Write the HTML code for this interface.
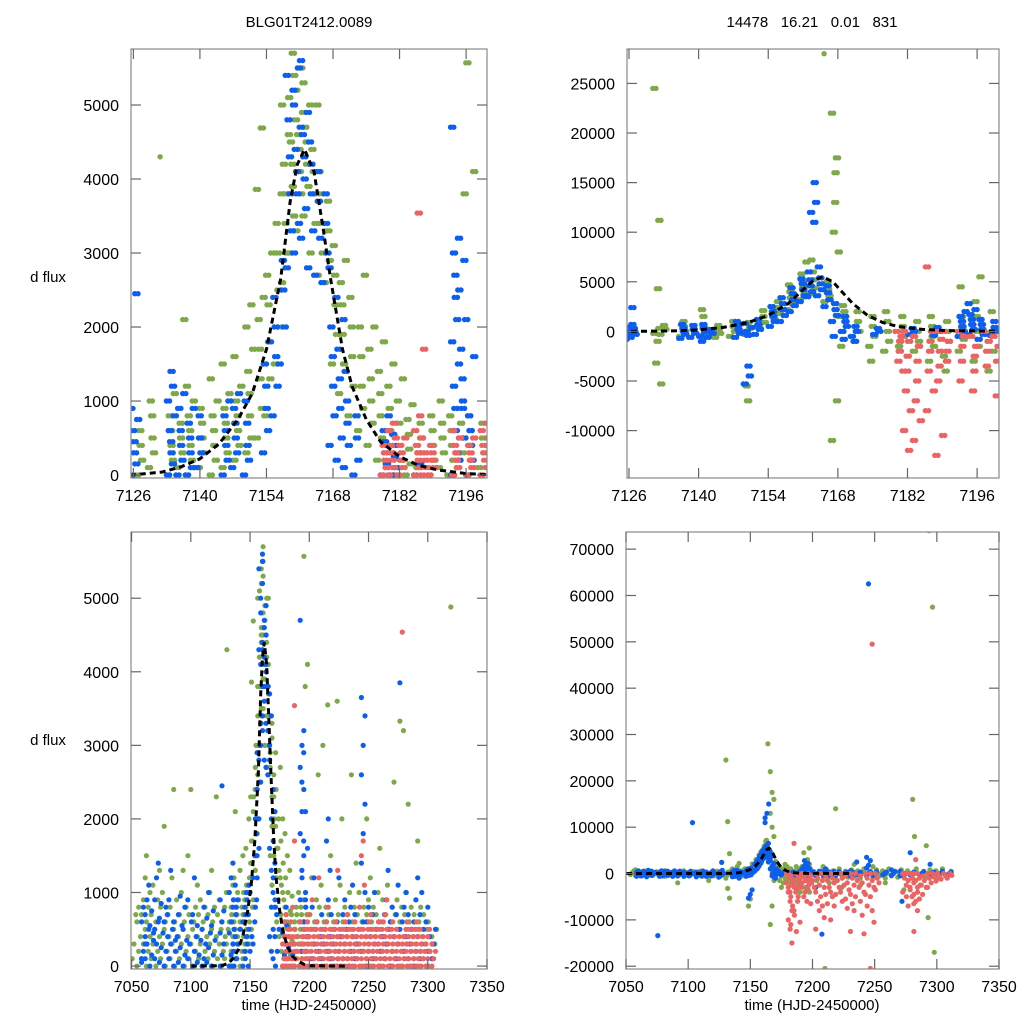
<!DOCTYPE html>
<html><head><meta charset="utf-8">
<style>
html,body{margin:0;padding:0;background:#fff;}
svg{display:block;font-family:"Liberation Sans",sans-serif;}
</style></head>
<body>
<svg id="chart" width="1024" height="1024" viewBox="0 0 1024 1024" xmlns="http://www.w3.org/2000/svg">
<text x="309" y="27" font-size="15" text-anchor="middle">BLG01T2412.0089</text>
<text x="812" y="27" font-size="15" text-anchor="middle" xml:space="preserve">14478   16.21   0.01   831</text>
<text x="48" y="282" font-size="15" text-anchor="middle">d flux</text>
<text x="48" y="745" font-size="15" text-anchor="middle">d flux</text>
<text x="309" y="1010" font-size="15" text-anchor="middle">time (HJD-2450000)</text>
<text x="812" y="1010" font-size="15" text-anchor="middle">time (HJD-2450000)</text>
</svg>
<script>
// ---- Dataset A (left panels, d flux) ----
const greenA = [[7052,[100,300,700]],[7056,[0,200,400,600,800]],[7060,[100,300,500,700,900,1200]],[7064,[0,200,400,600,800,1000,1500]],[7068,[100,300,500,700,1100]],[7072,[0,200,400,600,900,1300]],[7076,[100,300,500,800,1000,1900]],[7080,[0,200,400,600,700]],[7084,[100,300,500,800,1200,2400]],[7088,[0,200,400,600,900]],[7092,[100,300,500,700,1000,1300]],[7096,[0,200,400,600,800,1500]],[7100,[100,300,500,700,2400]],[7104,[0,200,400,600,800,1100]],[7108,[100,300,500,700,900]],[7112,[0,200,400,600,800]],[7116,[100,300,500,700,1000,1300]],[7120,[0,200,400,600,800,2300]],[7124,[100,300,500,700,900]],
[7127.5,[0,200,400,600]],[7130,[100,300,500,800,1000]],[7132,[4300]],[7134,[0,200,400,600,800,1100]],[7136,[100,300,500,700,900,2100]],[7138,[0,200,400,600,800,1000,1200]],[7140.5,[100,300,500,700,900]],[7143,[0,200,400,600,800,1000,1300]],[7145.5,[100,300,500,700,900,1100,1500]],[7148,[200,400,600,800,1000,1200,1600]],[7150.5,[300,500,800,1100,1400,1700,2000,2300]],[7152.7,[500,900,1300,1700,2100,2400,3860,4690]],[7154.5,[800,1300,1800,2300,2700,3000]],[7156.5,[1500,2000,2500,3000,3400,3800]],[7158,[2600,3000,3400,3800,4200,4600,5000]],[7159.5,[3000,3500,3900,4200,4500,4800,5100,5400,5700]],[7161,[3300,3800,4100,4400,4600,4900,5200,5500]],[7162.5,[3500,3900,4200,4500,4700,5000,5300]],[7164,[3000,3400,3800,4100,4400,5000]],[7165.5,[2700,3000,3400,3800,4100]],[7167,[2600,2900,3300,3700]],[7168.5,[1500,1900,2300,2700,3100]],[7170,[1100,1500,1900,2300,2600,2900]],[7172,[800,1200,1600,2000,2400]],[7174,[600,900,1200,1600,2000,2700]],[7176,[400,700,1000,1300,1700,2000]],[7178,[200,500,800,1100,1400,1800]],[7180,[100,300,600,900,1200,1500]],[7182,[0,200,400,700,1000,1300]],[7184,[0,150,350,550,750,950]],[7186.5,[100,300,500,700]],[7189,[0,200,400,600,800]],[7191,[100,300,500,700,1000]],[7193,[0,200,400,600,800]],[7195,[100,300,500,700,900,3800]],[7197,[0,200,400,600,800,4100,5570]],[7199.5,[100,300,500,700]],
[7202,[100,300,500,700,1200]],[7206,[0,200,400,600,900,2600]],[7210,[100,300,500,800,1100,3000]],[7214,[0,200,400,600,800,3550]],[7218,[100,300,500,700,1500]],[7222,[0,200,400,600,900,3600]],[7226,[100,300,500,700,1100,2000]],[7230,[0,200,400,600,800]],[7234,[100,300,500,700,1000,2600]],[7238,[0,200,400,600,800,1400]],[7242,[100,300,500,700,1000]],[7246,[0,200,400,600,800]],[7250,[100,300,500,700,900,1200,2000]],[7254,[0,200,400,600,800]],[7258,[100,300,500,700,1000,1600]],[7262,[0,200,400,600,900]],[7266,[100,300,500,700,1100]],[7270,[0,200,400,600,800,2500]],[7274,[100,300,500,700,900]],[7278,[0,200,400,600,800,3200,3330]],[7282,[100,300,500,700,1000,2200]],[7286,[0,200,400,600,800]],[7290,[100,300,500,700,900,1700]],[7294,[0,200,400,600,800]],[7298,[100,300,500,700]],[7302,[0,200,400,600]],[7306,[100,300,500]],[7321,[4880]]];
const blueA = [[7060,[50,200,400,600,800,300,100]],[7063,[100,300,500,700,900,1100]],[7067,[0,150,350,550,750,450]],[7071,[100,300,600,900,1200,1400,500]],[7075,[50,250,450,650,850]],[7079,[0,200,400,600,800,700]],[7083,[100,300,500,900,1300]],[7087,[0,200,400,600,350]],[7091,[50,250,550,700,950]],[7095,[0,150,350,500,800]],[7099,[100,300,600,900]],[7103,[0,200,400,700,1200]],[7107,[50,150,350,550]],[7111,[0,100,300,500,800]],[7115,[50,250,450,650,1000]],[7119,[0,150,350,550,750]],
[7126.3,[0,150,300,450,600,750,900,2450]],[7134,[0,150,300,450,600,800,1000,1200,1400]],[7136,[0,200,400,600,900,1100]],[7138,[0,100,300,500,700,900]],[7140,[100,300,500,800]],[7145.5,[0,200,400,600,800,1000]],[7147.5,[100,300,500,700,900,1100]],[7150,[0,200,400,700,1000]],[7154,[300,600,900,1200,1500,1800]],[7156,[800,1200,1600,2000,2400]],[7157.5,[1500,2000,2500,2900]],[7159,[2800,3300,3800,4300,4800,5200,5400]],[7160.5,[3000,3400,3800,4100,4400,4700,5000,5500]],[7162,[3200,3600,4000,4300,4600,4900,5600]],[7163.5,[2800,3300,3800,4200,4500]],[7165,[2700,3200,3700,4100]],[7166.5,[2600,3000,3400,3800]],[7168,[400,800,1200,1600,2000,2400,2800]],[7169.5,[200,500,900,1300,1700,2100]],[7171,[100,400,700,1000,1400]],[7173,[0,200,500,800]],[7179,[0,150,300,450,600,800]],[7181,[0,100,250,400,550]],[7186,[0,150,300]],[7193.8,[0,300,600,900,1200,1500,1800,2100,2400,2700,3000,3200,4700]],[7195.3,[200,500,900,1300,1700,2100,2500,2900,1000]],[7197,[0,200,400,600,800,1600]],
[7204,[100,300,500,800,1200]],[7208,[0,200,400,600]],[7212,[100,300,500,700]],[7216,[0,200,400,600,900,1300,1700,2000]],[7220,[100,300,500,700]],[7225,[0,200,400,600,1200]],[7230,[100,300,500,700,900]],[7235,[0,200,400,600,800,1100]],[7240,[100,300,500,700]],[7245.5,[200,600,1000,1400,1800,2200,2600,3000,3400,3650]],[7250,[0,200,400,600,800]],[7255,[100,300,500,700,1000]],[7260,[0,200,400,600]],[7265,[100,300,500,700,900,1300]],[7270,[0,200,400,600,800]],[7275,[100,300,500,700,1100,3850]],[7280,[0,200,400,600,800,1000]],[7285,[100,300,500,700]],[7290,[0,200,400,600,900,1200]],[7295,[100,300,500,700,1000]],[7300,[0,200,400,600,800]],[7305,[100,300,500]]];
const redA = [[7179,[0,100,200,300,400]],[7180.5,[0,100,200,300,400,500,600,700]],[7182.5,[0,100,200,300,400,500]],[7186,[0,100,200,300,400,500,600,800,3540]],[7187.5,[0,100,200,300,1700]],[7189,[0,100,200,300,400]],[7194,[0,100,200,300,400,500,600]],[7197,[0,100,200,300,400,500]],[7200,[0,100,200,300,400,500,600,700]],[7204,[0,100,200,300,400,500,900]],[7208,[0,100,200,300,400,500,600,1200]],[7212,[0,100,200,300,400,500]],[7216,[0,100,200,300,400,500,600,800]],[7220,[0,100,200,300,400,500]],[7224,[0,100,200,300,400,500,600,1300]],[7228,[0,100,200,300,400,500]],[7232,[0,100,200,300,400,500,600,700]],[7236,[0,100,200,300,400,500]],[7240,[0,100,200,300,400,500,600]],[7244,[0,100,200,300,400,500,800,1500,1700]],[7248,[0,100,200,300,400,500,1100]],[7252,[0,100,200,300,400,500,600,700]],[7256,[0,100,200,300,400,500]],[7260,[0,100,200,300,400,500,600]],[7264,[0,100,200,300,400,500,600,700,900]],[7268,[0,100,200,300,400,500]],[7272,[0,100,200,300,400,500,600]],[7276,[0,100,200,300,400]],[7280,[0,100,200,300,400,500,4540]],[7284,[0,100,200,300,400,500,600]],[7288,[0,100,200,300,400,500]],[7292,[0,100,200,300,400,500,600]],[7296,[0,100,200,300,400]],[7300,[0,100,200,300,400,500]],[7305,[0,100,200,300]]];
const modelAT = [7100,7126,7132,7136,7140,7144,7148,7151,7154,7157,7159,7160.5,7162,7164,7166,7167.5,7170,7172,7175,7178,7182,7186,7190,7196,7201,7230];
const modelAF = [0,5,40,110,220,420,750,1100,1700,2650,3700,4200,4400,4100,3300,2650,1700,1200,750,450,250,130,70,20,5,0];

// ---- Dataset B (right panels) ----
const greenB = [[7055,[-200,200,600]],[7059,[-400,0,400,800]],[7063,[-500,0,500]],[7068,[-600,-200,200,600]],[7073,[-400,0,400]],[7078,[-500,0,500]],[7083,[-600,-200,200,600]],[7088,[-400,0,400]],[7093,[-500,0,500,-2000]],[7098,[-600,-200,200,600]],[7103,[-400,0,400]],[7108,[-500,0,500]],[7113,[-600,-200,200,600]],[7118,[-400,0,400,-1500]],[7122,[-500,0,500]],
[7131.8,[24500,11200,4300,-1000,-3200,-5300,-200,300]],[7133,[-300,200,600]],[7137,[-500,0,500,1000]],[7141,[-400,0,400,1500,2200]],[7144,[-600,-200,200,600]],[7147,[-500,0,500,1000]],[7150,[-300,300,900,-7000,-5500]],[7153,[300,900,1500,2100]],[7156,[1200,1800,2400,3000]],[7158.5,[2200,2800,3400,4000,4700]],[7161,[3200,3800,4400,5000,5800,7000]],[7163,[3800,4400,5200,6000,7200]],[7165.6,[28000]],[7166,[3000,3600,4200,5000]],[7167.5,[22000,17500,16000,13000,10000,8000,-11000,-7000]],[7169,[1500,2000,2600,0,-1500]],[7172,[-1000,0,1000,2000]],[7175,[-1500,-500,500,1500,-3000]],[7178,[-2000,-1000,0,1000,2000]],[7181,[-1500,-500,500,1500]],[7184,[-2000,-1000,0,1000]],[7187,[-3000,-1500,-500,500,1500]],[7190,[-2500,-1000,0,1000,-4000]],[7193,[-2000,-800,400,1500,4500]],[7196,[-3000,-1500,0,1500,3000,5500]],[7199,[-4000,-2000,0,2000]],
[7205,[-500,0,500,-1500]],[7210,[-800,0,800,1500,-20500]],[7215,[-600,0,600,-2000]],[7220,[-1000,0,1000,14000]],[7225,[-500,0,500,-3000]],[7230,[-800,0,800]],[7235,[-600,0,600,2000]],[7240,[-1000,0,1000,-2500]],[7245,[-500,0,500]],[7250,[-800,0,800,1500]],[7255,[-600,0,600]],[7260,[-1000,0,1000,-2000]],[7265,[-500,0,500]],[7270,[-800,0,800]],[7275,[-600,0,600,-3500]],[7282,[-1000,0,1000,16000,8000]],[7288,[-500,0,500,-2500]],[7293,[-800,0,800,6000,-9500]],[7295,[74000]],[7298,[-600,0,600,57500,-17000]],[7303,[-1000,0,1000]],[7310,[-500,0,500]]];
const blueB = [[7060,[-600,-300,0,300,600]],[7064,[-500,-200,0,200,500]],[7068,[-700,-300,0,300,700]],[7072,[-400,-100,200,500]],[7077,[-13400,-600,-300,0,300,600]],[7081,[-500,-200,0,200,500]],[7085,[-400,-100,200,500]],[7089,[-600,-300,0,300,600]],[7093,[-500,-200,0,200,500]],[7098,[-600,-300,0,300]],[7102,[-500,-200,0,200,500,11000]],[7108,[-700,-300,0,300]],[7112,[-500,-200,0,200,500]],[7116,[-600,-300,0,300]],[7120,[-500,-200,0,200,600]],
[7126,[-800,-500,-200,100,400,700]],[7127,[-600,-300,0,300,2400]],[7137,[-700,-300,0,300,700]],[7139,[-600,-200,200,600]],[7141,[-500,-100,300,700,-1000]],[7142.5,[-600,-200,200]],[7148,[-600,-200,200,600,1000]],[7150,[-5300,-4500,-3500,-400,0,400,800]],[7152,[-300,200,700,1200]],[7155,[500,1000,1500,2000,2500]],[7157,[1000,1600,2200,2800,3400]],[7159,[2000,2600,3200,3800,4400]],[7161,[3000,3600,4200,4800,5300]],[7162.5,[3500,4000,4600,5200,6000]],[7163.3,[12000,13000,15000,11000]],[7164.5,[3600,4200,4800,5400,6500]],[7166,[2500,3200,3900,4600]],[7167.5,[1000,1600,2200,2800,-500]],[7169.5,[0,500,1000,1500,-800]],[7171.5,[-500,0,500,-1000]],[7176,[-300,0,300]],[7183,[-300,0,300]],[7188,[-400,0,400]],[7193,[-500,0,500,1000,1500,2000]],[7195,[-300,200,700,1200,1700,2200,2800]],[7197,[-800,-300,200,700,1200]],[7199.5,[-400,0,400,1000]],
[7204,[-500,0,500,-3000]],[7209,[-13100,-400,0,400]],[7212,[-300,0,300,1000]],[7216,[-500,0,500]],[7220,[-400,0,400]],[7226,[-300,0,300]],[7232,[-600,-200,200,600]],[7237,[-300,0,300,2500]],[7245,[-400,0,400,1200,1800,2800,3500,62500]],[7250,[-400,0,400]],[7258,[-300,0,300]],[7265,[-400,0,400,800]],[7272,[-500,-6000,0,500]],[7280,[-300,0,300,4500]],[7288,[-400,0,400]],[7296,[-300,0,300,2000]],[7303,[-500,0,500]],[7310,[-300,0,300]]];
const redB = [[7180.5,[0,-500,-1000,-2000,-3000,-4000]],[7182,[0,-1000,-2500,-4000,-6000,-8000,-10000,-12000,-15000]],[7184,[-500,-1500,-3000,-5000,-7000,-9000,-11000]],[7186.6,[6500,0,-1000,-2000,-4000,-6000,-8000]],[7188.5,[0,-800,-2000,-3500,-5000,-10500,-12500]],[7190,[0,-1000,-2000,-3000]],[7193,[0,-500,-1500,-3000,-5000]],[7195.5,[-500,-1500,-2500,-4000,-6000]],[7198,[0,-1000,-2000,-3500]],[7200,[-500,-1500,-3000,-6500]],
[7204,[0,-1000,-2500,-4000,-6000,-8000,-12000]],[7208,[0,-1500,-3000,-5000,-7000,-9500]],[7212,[-500,-1500,-3000,-4500,-6500]],[7216,[0,-1000,-2000,-4000,-5000,-7000,-10000]],[7220,[0,-1500,-3000,-4500]],[7224,[0,-1000,-2500,-4000,-6000]],[7228,[-500,-2000,-3500,-5500,-7500]],[7232,[0,-1000,-2500,-4500,-6500,-8000,-12500]],[7236,[0,-1500,-3000,-5000]],[7240,[-500,-2000,-4000,-6000,-9000,-13000]],[7244,[0,-1000,-2500,-4500,-7000]],[7248,[0,-1500,-3000,-5000,-8000,-10500,-20500,49500]],[7252,[0,-1000,-2000,-3500]],[7274,[0,-1000,-2500,-4000]],[7277,[0,-1500,-3000,-5000,-7000]],[7280,[0,-1000,-2000,-3500,-5000,-6500]],[7283,[0,-1500,-3000,-4500,-6000,-8000,-12500,3000]],[7286,[0,-1000,-2500,-4000,-5500]],[7290,[-500,-1500,-3000,-4500]],[7294,[0,-1000,-2000,-3000]],[7298,[0,-800,-1600]],[7302,[0,-600,-1200]],[7307,[0,-500,-1000]],[7312,[0,-400]]];
const modelBT = [7050,7126,7135,7140,7145,7150,7154,7158,7161,7163,7165,7167,7169,7171,7174,7177,7180,7185,7190,7200,7230];
const modelBF = [0,0,50,150,400,900,1600,2800,4200,5100,5500,5000,3900,2800,1600,900,500,200,80,20,0];

// ---- tick labels ----
const ticksXTop = [7126,7140,7154,7168,7182,7196];
const ticksXBot = [7050,7100,7150,7200,7250,7300,7350];
const ticksYTL = [0,1000,2000,3000,4000,5000];
const ticksYTR = [-10000,-5000,0,5000,10000,15000,20000,25000];
const ticksYBL = [0,1000,2000,3000,4000,5000];
const ticksYBR = [-20000,-10000,0,10000,20000,30000,40000,50000,60000,70000];

const NS = "http://www.w3.org/2000/svg";
const svg = document.getElementById('chart');
const COL = {green:'#7fa84a', blue:'#0c5ef0', red:'#ec6363'};

function mk(tag, attrs, parent){
  const e = document.createElementNS(NS, tag);
  for (const k in attrs) e.setAttribute(k, attrs[k]);
  (parent||svg).appendChild(e);
  return e;
}

function panel(id, px0, px1, py0, py1, xd, yd, xt, yt, series, mT, mF, r, pair){
  const sx = t => px0 + (t - xd[0]) / (xd[1] - xd[0]) * (px1 - px0);
  const sy = v => py1 - (v - yd[0]) / (yd[1] - yd[0]) * (py1 - py0);
  const g = mk('g', {});
  
  
  const cp = mk('clipPath', {id: id + '-clip'}, g);
  mk('rect', {x: px0, y: py0, width: px1 - px0, height: py1 - py0}, cp);
  const plot = mk('g', {'clip-path': 'url(#' + id + '-clip)'}, g);
  const jit = (xd[1] - xd[0]) / (px1 - px0) * 1.8;
  series.forEach(s => {
    const sg = mk('g', {fill: COL[s.c]}, plot);
    
    
    s.d.forEach(col => {
      col[1].forEach((v, k) => {
        const cx = sx(col[0] + ((k % 3) - 1) * jit);
        const cy = sy(v);
        const offs = (pair && col[1].length >= 3) ? [0, (k % 2 ? 3.2 : -3.2)] : [0];
        offs.forEach(o => {
          const c = mk('circle', {cx: (cx + o).toFixed(1), cy: cy.toFixed(1), r: r}, sg);
          
          
        });
      });
    });
  });
  let d = '';
  mT.forEach((t, i) => { d += (i ? 'L' : 'M') + sx(t).toFixed(1) + ',' + sy(mF[i]).toFixed(1); });
  const ml = mk('path', {d: d, fill: 'none', stroke: '#000', 'stroke-width': 3, 'stroke-dasharray': '6,4'}, plot);
  
  
  const fr = mk('rect', {x: px0, y: py0, width: px1 - px0, height: py1 - py0, fill: 'none', stroke: '#888', 'stroke-width': 1.2}, g);
  
  
  xt.forEach(t => {
    const x = sx(t);
    mk('line', {x1: x, x2: x, y1: py1, y2: py1 - 10, stroke: '#666', 'stroke-width': 1.2}, g);
    mk('line', {x1: x, x2: x, y1: py0, y2: py0 + 10, stroke: '#666', 'stroke-width': 1.2}, g);
    const tx = mk('text', {x: x, y: py1 + 23, 'font-size': 16, 'text-anchor': 'middle'}, g);
    tx.textContent = t;
    
    
  });
  yt.forEach(v => {
    const y = sy(v);
    mk('line', {x1: px0, x2: px0 + 10, y1: y, y2: y, stroke: '#666', 'stroke-width': 1.2}, g);
    mk('line', {x1: px1, x2: px1 - 10, y1: y, y2: y, stroke: '#666', 'stroke-width': 1.2}, g);
    const tx = mk('text', {x: px0 - 12, y: y + 6, 'font-size': 16, 'text-anchor': 'end'}, g);
    tx.textContent = v;
    
    
  });
}

const serA = [{c:'green', d:greenA}, {c:'blue', d:blueA}, {c:'red', d:redA}];
const serB = [{c:'green', d:greenB}, {c:'blue', d:blueB}, {c:'red', d:redB}];
panel('top-left', 131, 487, 49, 478, [7125.5, 7200.4], [-40, 5757], ticksXTop, ticksYTL, serA, modelAT, modelAF, 2.7, true);
panel('top-right', 627, 999, 49, 478, [7125.6, 7200.4], [-14780, 28470], ticksXTop, ticksYTR, serB, modelBT, modelBF, 2.7, true);
panel('bottom-left', 131, 487, 532, 969, [7049.5, 7350], [-40, 5900], ticksXBot, ticksYBL, serA, modelAT, modelAF, 2.6, false);
panel('bottom-right', 626, 999, 532, 969, [7050, 7350], [-20600, 73700], ticksXBot, ticksYBR, serB, modelBT, modelBF, 2.6, false);
</script>
</body></html>
